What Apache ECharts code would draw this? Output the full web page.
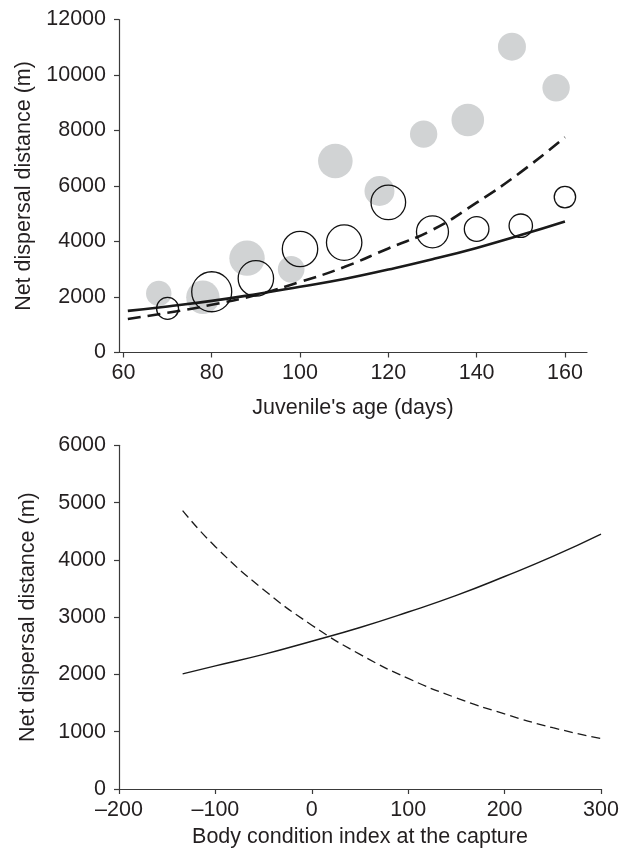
<!DOCTYPE html>
<html>
<head>
<meta charset="utf-8">
<script src="https://cdn.jsdelivr.net/npm/echarts@6/dist/echarts.min.js"></script>
<style>
  html, body { margin: 0; padding: 0; background: #fff; }
  #chart { width: 627px; height: 858px; }
</style>
</head>
<body>
<div id="chart"></div>
<script>
// top panel: juvenile's age vs net dispersal distance
const ageTicks = [60, 80, 100, 120, 140, 160]
const grayAge = [68, 78, 88, 98, 108, 118, 128, 138, 148, 158]
const grayDist = [2130, 1990, 3400, 3000, 6900, 5820, 7870, 8380, 11020, 9540]
const grayWeight = [12.7, 16.7, 17.7, 13.3, 17.3, 15, 13.7, 16.3, 14, 13.7]
const openAge = [70, 80, 90, 100, 110, 120, 130, 140, 150, 160]
const openDist = [1590, 2190, 2670, 3730, 3960, 5410, 4350, 4450, 4570, 5600]
const openWeight = [11, 20, 17.7, 17.7, 17.7, 17.3, 16, 12.3, 11.7, 10.7]
const ageLine = [61, 70, 80, 90, 100, 110, 120, 130, 140, 150, 160]
const solidTop = [1500, 1660, 1860, 2100, 2370, 2650, 2990, 3360, 3770, 4230, 4720]
const dashedTop = [1210, 1430, 1720, 2070, 2540, 3080, 3750, 4420, 5400, 6500, 7760]

// bottom panel: body condition index vs net dispersal distance
const bciLine = [-134, -100, -50, 0, 50, 100, 150, 200, 250, 300]
const solidBottom = [2010, 2150, 2350, 2580, 2820, 3090, 3380, 3710, 4060, 4450]
const dashedBottom = [4860, 4230, 3480, 2860, 2350, 1930, 1590, 1310, 1070, 880]

const zip = (xs, ys, ws) => xs.map((x, i) => ws ? [x, ys[i], ws[i]] : [x, ys[i]])

const FONT = "'Liberation Sans', Arial, sans-serif"
const FS = 21.5
const TXT = '#231f20'
const AX = '#3a3a3a'

const axisBase = {
  axisLine: { show: true, onZero: false, lineStyle: { color: AX, width: 1.2 } },
  axisTick: { show: true, inside: false, length: 5, lineStyle: { color: AX, width: 1.2 } },
  splitLine: { show: false },
  nameLocation: 'middle',
  nameTextStyle: { fontFamily: FONT, fontSize: FS, color: TXT },
}
const labelBase = { fontFamily: FONT, fontSize: FS, color: TXT }
const plain = v => String(v).replace('-', '\u2013')

const chart = echarts.init(document.getElementById('chart'))
chart.setOption({
  animation: false,
  backgroundColor: '#fff',
  grid: [
    { left: 119, top: 19.5, width: 468, height: 333, containLabel: false },
    { left: 119, top: 445.3, width: 482, height: 343.7, containLabel: false },
  ],
  xAxis: [
    {
      ...axisBase, gridIndex: 0, type: 'value', min: 59, max: 165,
      name: "Juvenile's age (days)", nameGap: 45,
      axisTick: { ...axisBase.axisTick, customValues: ageTicks },
      axisLabel: { ...labelBase, margin: 10, customValues: ageTicks, formatter: plain },
    },
    {
      ...axisBase, gridIndex: 1, type: 'value', min: -200, max: 300, interval: 100,
      name: 'Body condition index at the capture', nameGap: 37,
      axisLabel: { ...labelBase, margin: 10, formatter: plain },
    },
  ],
  yAxis: [
    {
      ...axisBase, gridIndex: 0, type: 'value', min: 0, max: 12000, interval: 2000,
      name: 'Net dispersal distance (m)', nameGap: 80,
      axisLabel: { ...labelBase, margin: 13, formatter: plain },
    },
    {
      ...axisBase, gridIndex: 1, type: 'value', min: 0, max: 6000, interval: 1000,
      name: 'Net dispersal distance (m)', nameGap: 80,
      axisLabel: { ...labelBase, margin: 13, formatter: plain },
    },
  ],
  series: [
    {
      type: 'scatter', xAxisIndex: 0, yAxisIndex: 0, z: 1,
      data: zip(grayAge, grayDist, grayWeight),
      symbol: 'circle', symbolSize: v => v[2] * 2,
      itemStyle: { color: '#d1d3d4', opacity: 1 },
    },
    {
      type: 'line', xAxisIndex: 0, yAxisIndex: 0, z: 2,
      data: zip(ageLine, solidTop), smooth: true, showSymbol: false,
      lineStyle: { color: '#1a1a1a', width: 2.6 },
    },
    {
      type: 'line', xAxisIndex: 0, yAxisIndex: 0, z: 2,
      data: zip(ageLine, dashedTop), smooth: true, showSymbol: false,
      lineStyle: { color: '#1a1a1a', width: 2.6, type: [13, 7] },
    },
    {
      type: 'scatter', xAxisIndex: 0, yAxisIndex: 0, z: 3,
      data: zip(openAge, openDist, openWeight),
      symbol: 'circle', symbolSize: v => v[2] * 2,
      itemStyle: { color: 'rgba(0,0,0,0)', borderColor: '#111', borderWidth: 1.3, opacity: 1 },
    },
    {
      type: 'line', xAxisIndex: 1, yAxisIndex: 1,
      data: zip(bciLine, solidBottom), smooth: true, showSymbol: false,
      lineStyle: { color: '#1a1a1a', width: 1.4 },
    },
    {
      type: 'line', xAxisIndex: 1, yAxisIndex: 1,
      data: zip(bciLine, dashedBottom), smooth: true, showSymbol: false,
      lineStyle: { color: '#1a1a1a', width: 1.3, type: [9, 5] },
    },
  ],
})
</script>
</body>
</html>
